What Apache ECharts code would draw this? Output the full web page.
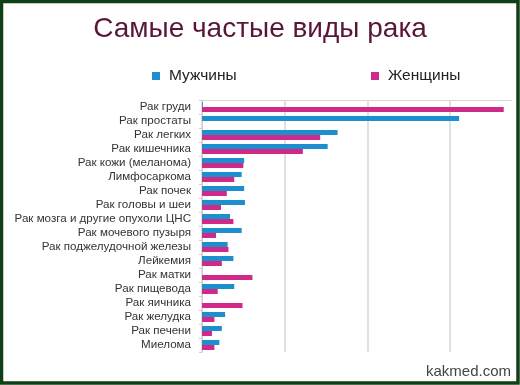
<!DOCTYPE html>
<html><head><meta charset="utf-8">
<script src="https://cdn.jsdelivr.net/npm/echarts@6/dist/echarts.min.js"></script>
<style>html,body{margin:0;padding:0;background:#fff}#c{width:520px;height:385px}</style>
</head><body><div id="c"></div>
<script>
const categories = ["Рак груди","Рак простаты","Рак легких","Рак кишечника","Рак кожи (меланома)","Лимфосаркома","Рак почек","Рак головы и шеи","Рак мозга и другие опухоли ЦНС","Рак мочевого пузыря","Рак поджелудочной железы","Лейкемия","Рак матки","Рак пищевода","Рак яичника","Рак желудка","Рак печени","Миелома"];
const men   = [1, 311, 164, 152, 51, 48, 51, 52, 34, 48, 31, 38, 0, 39, 0, 28, 24, 21];
const women = [365, 0, 143, 122, 50, 39, 30, 23, 38, 17, 32, 24, 61, 19, 49, 15, 12, 15];
const seriesNames = ["Мужчины","Женщины"];
const titleText = "Самые частые виды рака";
const watermark = "kakmed.com";

const FONT = '"Liberation Sans", Arial, sans-serif';
const chart = echarts.init(document.getElementById('c'), null, {renderer:'canvas'});
chart.setOption({
  backgroundColor: '#fff',
  animation: false,
  textStyle: {fontFamily: FONT},
  title: {text: titleText, left: 'center', top: 10,
    textStyle: {fontSize: 28, fontWeight: 'normal', color: '#5a1638', fontFamily: FONT}},
  legend: [
    {data: [seriesNames[0]], left: 152, top: 68, padding: 0, icon: 'rect', itemWidth: 8, itemHeight: 8,
     textStyle: {fontSize: 15.5, color: '#222', padding: [0,0,0,4]}},
    {data: [seriesNames[1]], left: 371, top: 68, padding: 0, icon: 'rect', itemWidth: 8, itemHeight: 8,
     textStyle: {fontSize: 15.5, color: '#222', padding: [0,0,0,4]}}
  ],
  grid: {left: 202, top: 100, right: 8, bottom: 33, containLabel: false},
  xAxis: {type: 'value', position: 'top', min: 0, max: 375, interval: 100,
    axisLabel: {show: false}, axisTick: {show: false},
    axisLine: {show: true, lineStyle: {color: '#d6d6d6', width: 1}},
    splitLine: {show: true, lineStyle: {color: ['#d6d6d6','#d6d6d6','#d6d6d6','#d6d6d6','rgba(0,0,0,0)'], width: 1.5}}},
  yAxis: {type: 'category', data: categories, inverse: true,
    axisLine: {show: true, lineStyle: {color: '#cfcfcf'}},
    axisTick: {show: true, length: 3, interval: 0, lineStyle: {color: '#cfcfcf'}},
    axisLabel: {fontSize: 11.6, color: '#333', margin: 11, interval: 0, fontFamily: FONT}},
  series: [
    {name: seriesNames[0], type: 'bar', data: men, barWidth: 5, barGap: '0%', itemStyle: {color: '#1d8fcf'}},
    {name: seriesNames[1], type: 'bar', data: women, barWidth: 5, barGap: '0%', itemStyle: {color: '#d02a88'}}
  ],
  graphic: [
    {type: 'text', right: 9, top: 364, z: 100,
     style: {text: watermark, font: '15px ' + FONT, fill: '#444'}},
    {type: 'rect', z: 200, shape: {x: 1.5, y: 1.5, width: 516.5, height: 381.5},
     style: {fill: 'none', stroke: '#0f3f12', lineWidth: 3.5}}
  ]
});
</script></body></html>
